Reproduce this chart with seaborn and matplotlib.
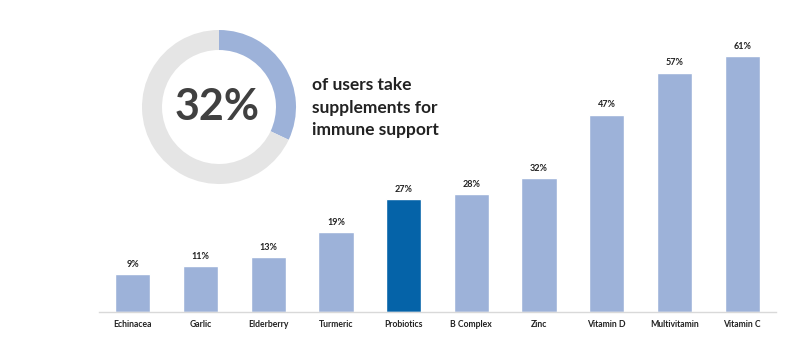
import matplotlib
matplotlib.use("Agg")
import matplotlib.pyplot as plt
import seaborn as sns
import pandas as pd

categories = ["Echinacea", "Garlic", "Elderberry", "Turmeric", "Probiotics",
              "B Complex", "Zinc", "Vitamin D", "Multivitamin", "Vitamin C"]
values = [9, 11, 13, 19, 27, 28, 32, 47, 57, 61]
highlight = "Probiotics"
donut_value = 32
donut_text = ["of users take", "supplements for", "immune support"]

sns.set_theme(style="white")
plt.rcParams['font.family'] = ['Lato', 'DejaVu Sans']

BAR = "#9DB2D9"
HI = "#0563A8"
GRAY = "#E5E5E5"
TXT = "#404040"

df = pd.DataFrame({"cat": categories, "val": values})
palette = {c: (HI if c == highlight else BAR) for c in categories}

fig = plt.figure(figsize=(8, 3.45), dpi=100)
ax = fig.add_axes([99/800, 33/345, 677/800, 292/345])
sns.barplot(data=df, x="cat", y="val", hue="cat", palette=palette,
            legend=False, width=0.52, ax=ax, saturation=1)
ax.set_xlim(-0.5, 9.5)
ax.set_ylim(0, 69.5)
for i, v in enumerate(values):
    ax.text(i, v + 1.2, f"{v}%", ha="center", va="bottom", fontsize=6.5,
            fontweight="bold", color="#222222")
ax.set_xlabel("")
ax.set_ylabel("")
ax.set_yticks([])
ax.tick_params(axis="x", length=0, pad=6, labelsize=6.2)
for lab in ax.get_xticklabels():
    lab.set_fontweight("bold")
    lab.set_color("#222222")
for s in ["top", "right", "left"]:
    ax.spines[s].set_visible(False)
ax.spines["bottom"].set_color("#D9D9D9")
ax.spines["bottom"].set_linewidth(1)

# donut
dax = fig.add_axes([142/800, (345-184)/345, 154/800, 154/345])
dax.pie([donut_value, 100 - donut_value], colors=[BAR, GRAY], startangle=90,
        counterclock=False, radius=1, wedgeprops=dict(width=0.26, edgecolor="none"))
dax.set_xlim(-1, 1)
dax.set_ylim(-1, 1)
dax.set_aspect("equal")
dax.axis("off")
dax.text(-0.03, 0.0, f"{donut_value}%", ha="center", va="center", fontsize=31,
         fontweight="bold", color=TXT)

for j, line in enumerate(donut_text):
    fig.text(312/800, 1 - (85 + j*22.5)/345, line, ha="left", va="center",
             fontsize=12.5, fontweight="bold", color="#222222")

fig.savefig("out.png", dpi=100)
